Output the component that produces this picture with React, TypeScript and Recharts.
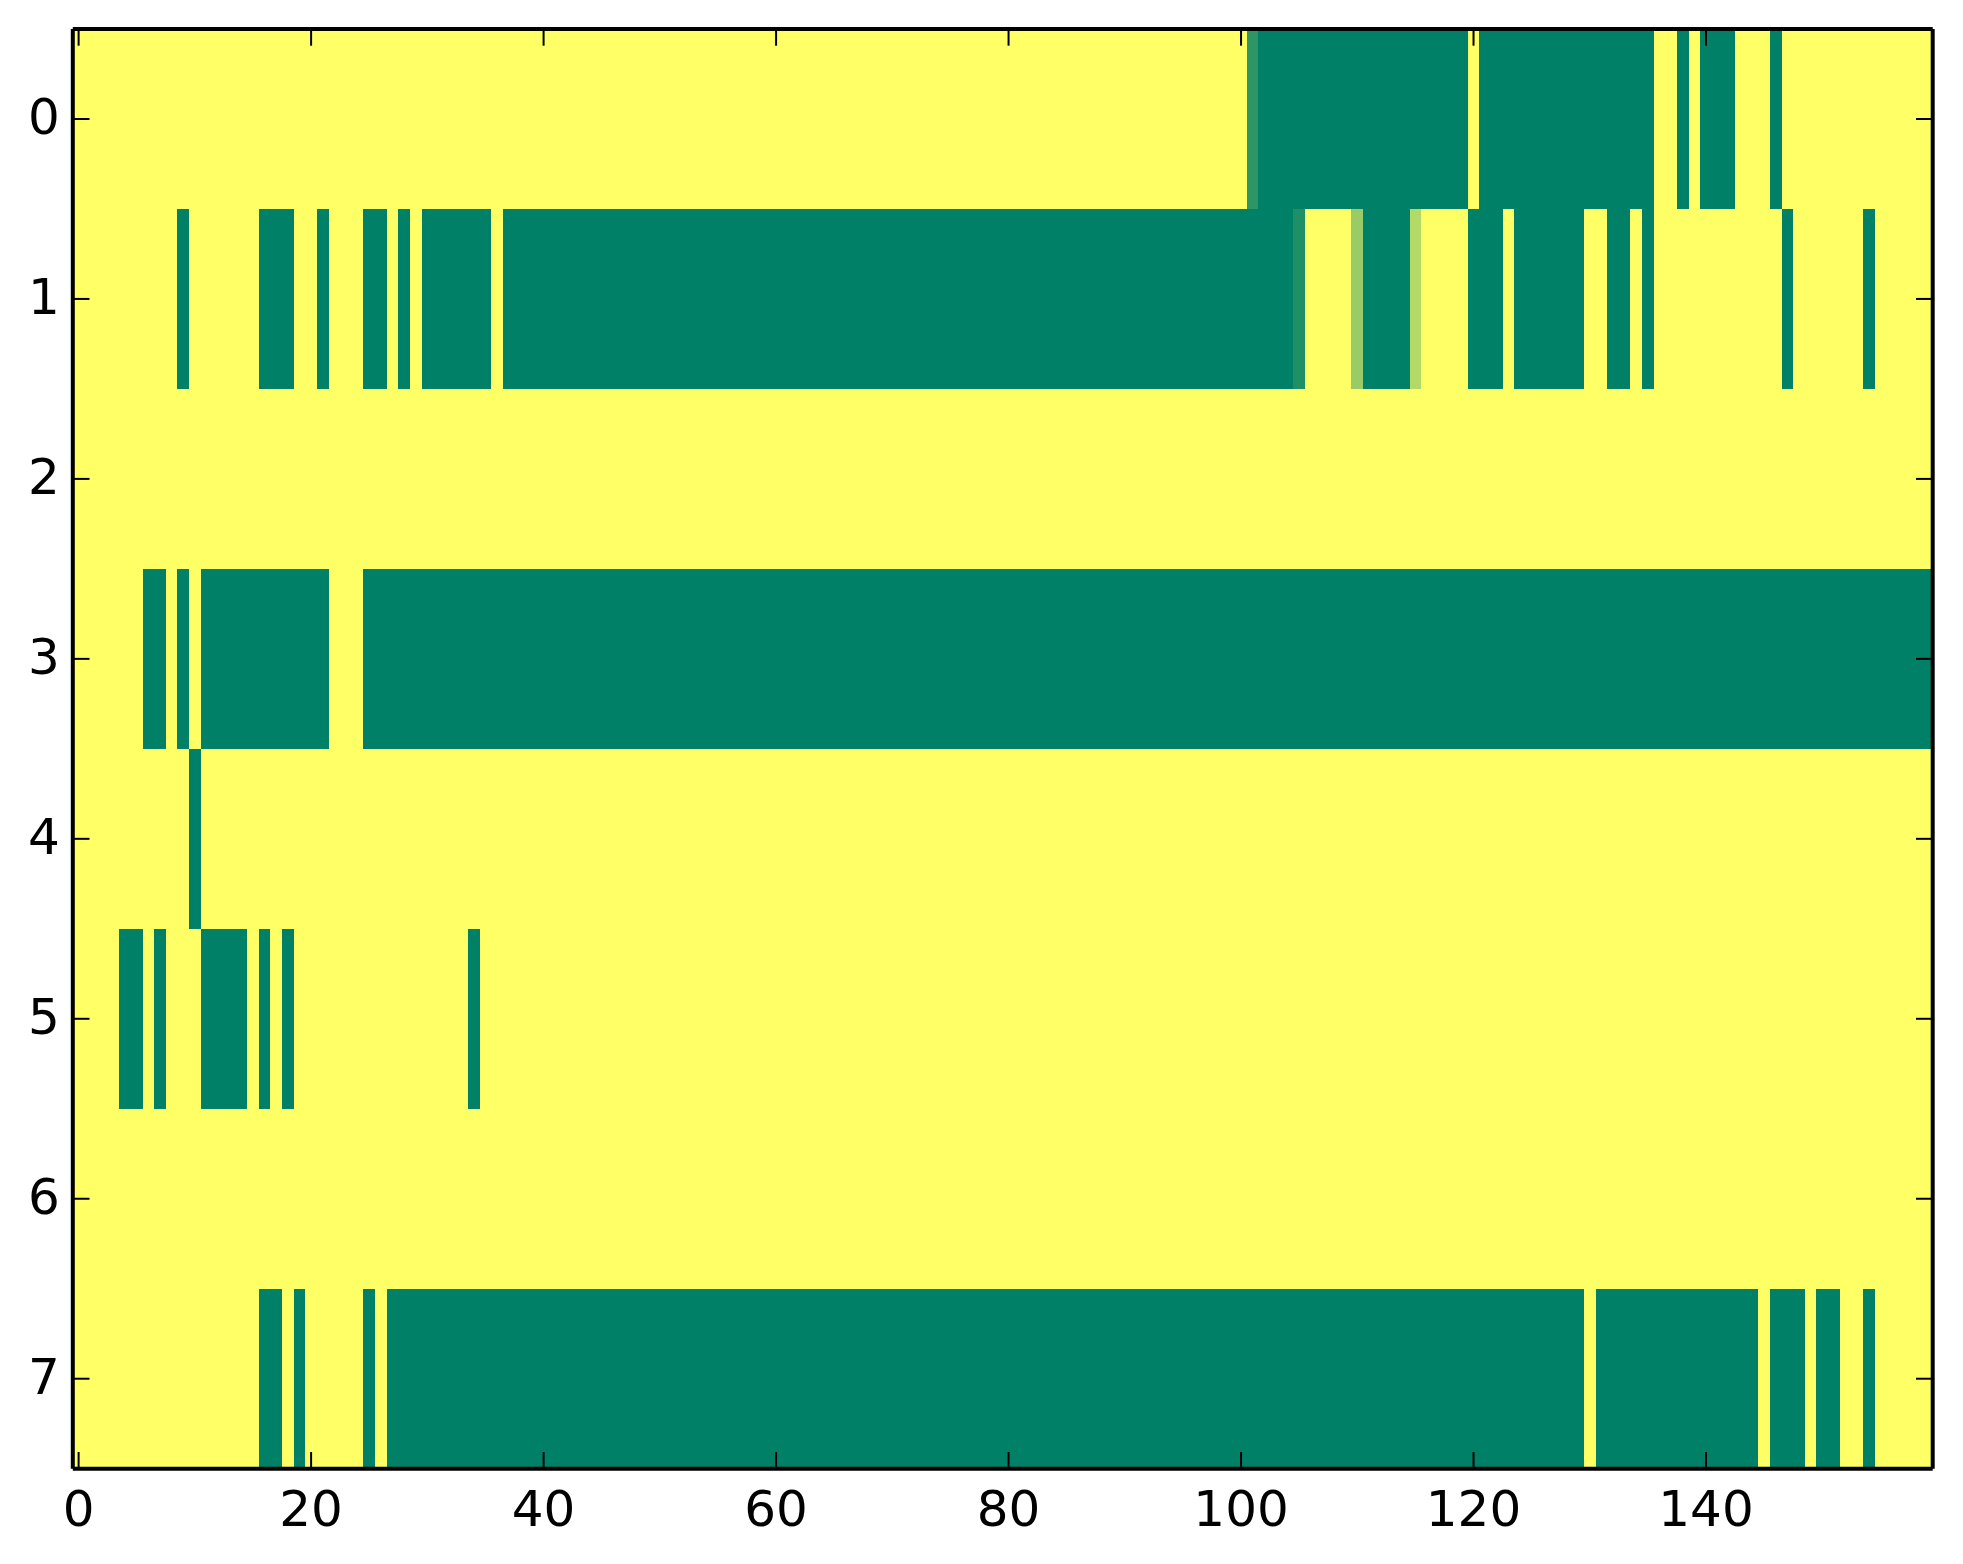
import { ScatterChart, Scatter, XAxis, YAxis } from 'recharts';

// heatmap values read row by row as runs of [value, number of columns]
// 1 = yellow end of the "summer" map, 0 = green end
const ROW_0: [number, number][] = [
  [1, 101], [0.18, 1], [0, 18], [1, 1], [0, 15], [1, 2], [0, 1], [1, 1],
  [0, 3], [1, 3], [0, 1], [1, 13],
];
const ROW_1: [number, number][] = [
  [1, 9], [0, 1], [1, 6], [0, 3], [1, 2], [0, 1], [1, 3], [0, 2], [1, 1],
  [0, 1], [1, 1], [0, 6], [1, 1], [0, 68], [0.12, 1], [1, 4], [0.6, 1],
  [0, 4], [0.7, 1], [1, 4], [0, 3], [1, 1], [0, 6], [1, 2], [0, 2], [1, 1],
  [0, 1], [1, 11], [0, 1], [1, 6], [0, 1], [1, 5],
];
const ROW_2: [number, number][] = [[1, 160]];
const ROW_3: [number, number][] = [
  [1, 6], [0, 2], [1, 1], [0, 1], [1, 1], [0, 11], [1, 3], [0, 135],
];
const ROW_4: [number, number][] = [[1, 10], [0, 1], [1, 149]];
const ROW_5: [number, number][] = [
  [1, 4], [0, 2], [1, 1], [0, 1], [1, 3], [0, 4], [1, 1], [0, 1], [1, 1],
  [0, 1], [1, 15], [0, 1], [1, 125],
];
const ROW_6: [number, number][] = [[1, 160]];
const ROW_7: [number, number][] = [
  [1, 16], [0, 2], [1, 1], [0, 1], [1, 5], [0, 1], [1, 1], [0, 103], [1, 1],
  [0, 14], [1, 1], [0, 3], [1, 1], [0, 2], [1, 2], [0, 1], [1, 5],
];

const ROW_RUNS = [ROW_0, ROW_1, ROW_2, ROW_3, ROW_4, ROW_5, ROW_6, ROW_7];
const Y_TICKS = [0, 1, 2, 3, 4, 5, 6, 7];
const X_TICKS = [0, 20, 40, 60, 80, 100, 120, 140];
const N_COLS = 160;

const W = 1963;
const H = 1564;
const LEFT = 72.8;
const RIGHT = 30.3;
const TOP = 29;
const BOTTOM = 95.3;
const CELL_W = (W - LEFT - RIGHT) / N_COLS;
const CELL_H = (H - TOP - BOTTOM) / Y_TICKS.length;

const FONT = 'DejaVu Sans';
const FONT_SIZE = 50;
const TICK_LEN = 16.7;
const TICK_W = 2;

// matplotlib "summer": (v, 0.5 + v/2, 0.4)
function summer(v: number) {
  const r = Math.round(255 * v);
  const g = Math.round(255 * (0.5 + 0.5 * v));
  return `rgb(${r},${g},102)`;
}

const cells = ROW_RUNS.flatMap((runs, row) => {
  let col = 0;
  return runs.flatMap(([v, n]) =>
    Array.from({ length: n }, () => ({ x: col++, y: row, v })),
  );
});

const CellShape = (props: any) => {
  const { cx, cy, payload } = props;
  return (
    <rect
      x={cx - CELL_W / 2}
      y={cy - CELL_H / 2}
      width={CELL_W + 1}
      height={CELL_H + 1}
      fill={summer(payload.v)}
      shapeRendering="crispEdges"
    />
  );
};

const BottomTick = (p: any) => (
  <g>
    <line x1={p.x} x2={p.x} y1={p.y} y2={p.y - TICK_LEN} stroke="#000" strokeWidth={TICK_W} />
    <text x={p.x} y={p.y + 57} textAnchor="middle" fontFamily={FONT} fontSize={FONT_SIZE} fill="#000">
      {p.payload.value}
    </text>
  </g>
);

const TopTick = (p: any) => (
  <line x1={p.x} x2={p.x} y1={p.y} y2={p.y + TICK_LEN} stroke="#000" strokeWidth={TICK_W} />
);

const LeftTick = (p: any) => (
  <g>
    <line x1={p.x} x2={p.x + TICK_LEN} y1={p.y} y2={p.y} stroke="#000" strokeWidth={TICK_W} />
    <text x={p.x - 13} y={p.y + 15} textAnchor="end" fontFamily={FONT} fontSize={FONT_SIZE} fill="#000">
      {p.payload.value}
    </text>
  </g>
);

const RightTick = (p: any) => (
  <line x1={p.x} x2={p.x - TICK_LEN} y1={p.y} y2={p.y} stroke="#000" strokeWidth={TICK_W} />
);

const spine = { stroke: '#000', strokeWidth: 4 };
const AXIS_Z = 700;

export default function App() {
  return (
    <div style={{ position: 'absolute', left: 0, top: 0, width: W, height: H, background: '#fff' }}>
      <ScatterChart width={W} height={H} margin={{ top: 0, right: 0, bottom: 0, left: 0 }}>
        <Scatter
          xAxisId="b"
          yAxisId="l"
          data={cells}
          shape={CellShape}
          isAnimationActive={false}
          zIndex={100}
        />
        <XAxis
          xAxisId="b"
          type="number"
          dataKey="x"
          orientation="bottom"
          domain={[-0.5, N_COLS - 0.5]}
          ticks={X_TICKS}
          interval={0}
          allowDataOverflow
          height={BOTTOM}
          axisLine={spine}
          tickLine={false}
          tickSize={0}
          tickMargin={0}
          tick={BottomTick}
          zIndex={AXIS_Z}
        />
        <XAxis
          xAxisId="t"
          type="number"
          dataKey="x"
          orientation="top"
          domain={[-0.5, N_COLS - 0.5]}
          ticks={X_TICKS}
          interval={0}
          allowDataOverflow
          height={TOP}
          axisLine={spine}
          tickLine={false}
          tickSize={0}
          tickMargin={0}
          tick={TopTick}
          zIndex={AXIS_Z}
        />
        <YAxis
          yAxisId="l"
          type="number"
          dataKey="y"
          orientation="left"
          reversed
          domain={[-0.5, 7.5]}
          ticks={Y_TICKS}
          interval={0}
          allowDataOverflow
          width={LEFT}
          axisLine={spine}
          tickLine={false}
          tickSize={0}
          tickMargin={0}
          tick={LeftTick}
          zIndex={AXIS_Z}
        />
        <YAxis
          yAxisId="r"
          type="number"
          dataKey="y"
          orientation="right"
          reversed
          domain={[-0.5, 7.5]}
          ticks={Y_TICKS}
          interval={0}
          allowDataOverflow
          width={RIGHT}
          axisLine={spine}
          tickLine={false}
          tickSize={0}
          tickMargin={0}
          tick={RightTick}
          zIndex={AXIS_Z}
        />
      </ScatterChart>
    </div>
  );
}
